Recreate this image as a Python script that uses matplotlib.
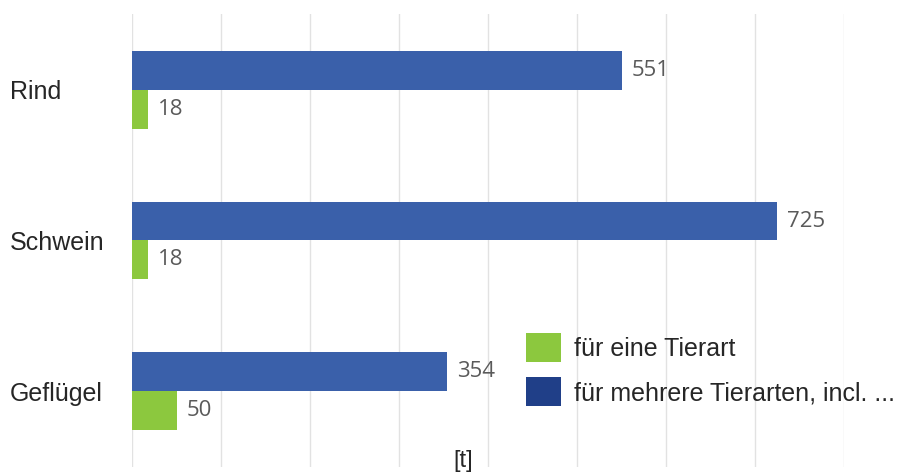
import matplotlib
matplotlib.use("Agg")
import matplotlib.pyplot as plt
from matplotlib.patches import Patch
import numpy as np

# Data
categories = ["Rind", "Schwein", "Geflügel"]
series_names = ["für eine Tierart", "für mehrere Tierarten, incl. ..."]
one_species = [18, 18, 50]
several_species = [551, 725, 354]
unit_label = "[t]"

green = "#8cc83e"
blue = "#3a60aa"
blue_legend = "#203f88"
text_dark = "#262626"
value_gray = "#5a5a5a"

fig = plt.figure(figsize=(9.02, 4.73), dpi=100)
ax = fig.add_axes([132 / 902, 6.5 / 473, (844 - 132) / 902, (466.5 - 14.5) / 473])

y = np.arange(len(categories))
h = 0.258

bars_multi = ax.barh(y - h / 2, several_species, height=h, color=blue, zorder=2)
bars_one = ax.barh(y + h / 2, one_species, height=h, color=green, zorder=2)

for bars, vals in ((bars_multi, several_species), (bars_one, one_species)):
    for b, v in zip(bars, vals):
        ax.annotate(f"{v}", xy=(v, b.get_y() + b.get_height() / 2),
                    xytext=(7, 0), textcoords="offset points",
                    ha="left", va="center", fontsize=16,
                    family=["Open Sans", "DejaVu Sans"], color=value_gray)

ax.set_xlim(0, 800)
ax.set_ylim(len(categories) - 0.5, -0.5)
ax.set_xticks(np.arange(0, 801, 100))
ax.xaxis.grid(True, color="#e2e2e2", linewidth=1.0, zorder=0)
ax.set_axisbelow(True)
ax.tick_params(axis="x", length=0, labelbottom=False)
for s in ax.spines.values():
    s.set_visible(False)

ax.set_yticks(y)
ax.set_yticklabels(categories, family=["Liberation Sans", "DejaVu Sans"],
                   fontsize=18, color=text_dark, ha="left")
ax.tick_params(axis="y", length=0, pad=(132 - 10) * 72 / 100)

handles = [Patch(facecolor=green, edgecolor="none"),
           Patch(facecolor=blue_legend, edgecolor="none")]
fig.legend(handles, series_names, loc="upper left",
           bbox_to_anchor=(526 / 902, 1 - 333 / 473),
           bbox_transform=fig.transFigure, frameon=False,
           prop={"family": ["Liberation Sans", "DejaVu Sans"], "size": 18},
           labelcolor=text_dark, borderpad=0, borderaxespad=0,
           handlelength=1.4, handleheight=1.4, handletextpad=0.5,
           labelspacing=0.62)

fig.text(463 / 902, 1 - 461 / 473, unit_label, ha="center", va="center",
         fontsize=17, family=["Liberation Sans", "DejaVu Sans"], color=text_dark)

fig.savefig("out.png", dpi=100, facecolor="white")
